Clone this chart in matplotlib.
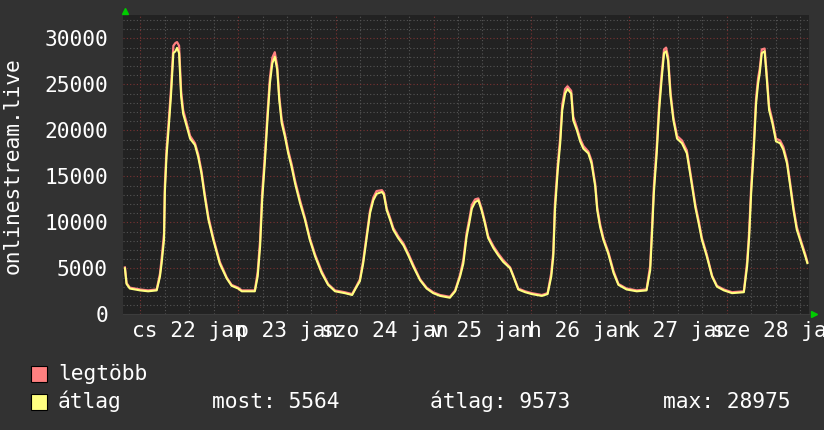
import numpy as np
import matplotlib.pyplot as plt
from matplotlib.patches import Rectangle

# onlinestream.live viewers, 22-28 jan, hours counted from 22 jan 00:00
hours = [-3.8, -3.4, -2.6, -0.1, 1.9, 4.0, 4.8, 5.2, 5.8, 6.0, 6.4, 7.0, 7.5, 8.1, 8.6,
         9.0, 9.5, 10.0, 10.5, 11.4, 12.2, 13.4, 14.2, 15.0, 15.8, 16.7, 17.9, 19.5,
         21.2, 22.4, 24.0, 24.9, 28.1, 28.8, 29.4, 29.9, 30.6, 31.2, 31.8, 32.4, 33.0,
         33.6, 34.1, 34.7, 35.5, 36.3, 37.1, 38.0, 39.2, 40.4, 41.6, 42.9, 44.5, 46.1,
         47.8, 50.2, 52.0, 53.1, 53.9, 54.7, 55.6, 56.4, 57.2, 58.0, 59.3, 59.8, 60.5,
         61.3, 62.1, 63.3, 64.6, 65.8, 67.0, 68.7, 70.3, 71.9, 73.6, 76.0, 77.3, 78.5,
         79.3, 80.1, 80.8, 81.4, 82.2, 83.0, 83.8, 84.6, 85.4, 86.7, 87.9, 89.1, 90.8,
         91.6, 92.8, 94.5, 96.1, 98.6, 100.0, 100.9, 101.4, 101.8, 102.5, 103.1, 103.6,
         104.3, 104.9, 105.8, 106.3, 107.2, 108.0, 108.8, 110.0, 110.8, 111.7, 112.2,
         112.9, 113.7, 114.9, 116.2, 117.4, 119.4, 121.9, 124.3, 125.2, 125.6, 126.1,
         126.8, 127.4, 128.0, 128.6, 129.1, 129.6, 130.2, 130.9, 131.8, 133.0, 134.2,
         135.0, 136.3, 137.1, 137.9, 139.1, 140.4, 141.6, 143.3, 145.3, 148.2, 149.0,
         149.5, 150.0, 150.6, 151.2, 151.7, 152.1, 152.6, 153.3, 153.8, 154.4, 155.2,
         156.1, 157.1, 157.9, 158.8, 159.6, 160.4, 161.2, 162.3, 163.3, 163.8]

atlag = [5000, 3300, 2800, 2600, 2500, 2600, 4100, 5500, 8100, 13200, 17100, 20600, 23700, 28400, 28600,
         28975, 28400, 23700, 21800, 20400, 19100, 18400, 17100, 15300, 12800, 10300, 8100, 5500,
         3900, 3100, 2800, 2500, 2500, 4100, 7400, 12400, 16800, 21100, 25100, 27300, 28000,
         26600, 23300, 20800, 19300, 17500, 16100, 14200, 12100, 10300, 8100, 6300, 4500, 3200,
         2500, 2300, 2100, 3000, 3600, 5500, 8400, 11000, 12400, 13100, 13300, 13000, 11300,
         10300, 9200, 8300, 7500, 6400, 5200, 3700, 2800, 2300, 2000, 1800, 2500, 4100,
         5500, 8400, 10000, 11500, 12200, 12400, 11300, 9900, 8300, 7200, 6400, 5700, 5000,
         4100, 2700, 2400, 2200, 2000, 2200, 4100, 6300, 11300, 15700, 18600, 22200,
         24000, 24500, 24000, 21100, 20000, 18800, 18000, 17500, 16400, 13900, 11300,
         9500, 8100, 6600, 4500, 3200, 2700, 2500, 2600, 4800, 8400, 13200,
         17500, 22200, 25500, 28400, 28600, 27600, 23700, 21100, 19100, 18600, 17500,
         15300, 11600, 9900, 8100, 6300, 4100, 3000, 2600, 2300, 2400, 5200,
         8400, 13200, 17500, 22900, 25100, 26200, 28400, 28600, 25800, 22200, 20800,
         18800, 18600, 17900, 16400, 13900, 11300, 9200, 7700, 6300, 5564]

legtobb = [5100, 3400, 2900, 2700, 2600, 2700, 4400, 6000, 8800, 14000, 17800, 21300, 24400, 29200, 29500,
           29600, 29200, 24300, 22200, 20700, 19400, 18600, 17400, 15600, 13100, 10600, 8300, 5700,
           4000, 3200, 2900, 2600, 2600, 4600, 8100, 13200, 17500, 21800, 25700, 27900, 28500,
           27000, 23700, 21200, 19600, 17800, 16400, 14500, 12400, 10500, 8300, 6500, 4700, 3300,
           2600, 2400, 2200, 3100, 3800, 5800, 8700, 11300, 12700, 13400, 13500, 13200, 11500,
           10500, 9400, 8500, 7700, 6600, 5400, 3800, 2900, 2400, 2100, 1900, 2600, 4300,
           5900, 8800, 10400, 11900, 12500, 12600, 11500, 10100, 8500, 7400, 6600, 5900, 5100,
           4200, 2800, 2500, 2300, 2100, 2300, 4500, 6800, 12000, 16300, 19200, 22800,
           24500, 24800, 24300, 21500, 20300, 19100, 18300, 17700, 16700, 14200, 11600,
           9800, 8300, 6800, 4700, 3300, 2800, 2600, 2700, 5300, 9000, 13900,
           18200, 22900, 26100, 28800, 29000, 28000, 24100, 21400, 19400, 18900, 17800,
           15600, 11900, 10200, 8300, 6500, 4200, 3100, 2700, 2400, 2500, 5700,
           9000, 13900, 18200, 23500, 25700, 26700, 28800, 28900, 26200, 22600, 21100,
           19100, 18900, 18200, 16700, 14200, 11600, 9500, 7900, 6500, 5700]

y_ticks = [0, 5000, 10000, 15000, 20000, 25000, 30000]
day_ticks = [12, 36, 60, 84, 108, 132, 156]
day_labels = ['cs 22 jan', 'p 23 jan', 'szo 24 jan', 'v 25 jan',
              'h 26 jan', 'k 27 jan', 'sze 28 jan']

### ----------- Plot -----------

plt.rcParams['font.family'] = 'DejaVu Sans Mono'
W, H = 824.0, 430.0
fig = plt.figure(figsize=(8.24, 4.30), dpi=100, facecolor='#323232')
ax = fig.add_axes([123.3/W, 1-314.3/H, (809-123.3)/W, (314.3-14.5)/H])
ax.set_facecolor('#222222')

# grid: minor grey every 6h / 1000, major red every day / 5000
for h in range(0, 168, 6):
    col = '#7a3333' if h % 24 == 0 else '#555555'
    ax.axvline(h, color=col, lw=0.8, ls=(0, (1, 2)), zorder=1)
for v in range(1000, 33000, 1000):
    col = '#7a3333' if v % 5000 == 0 else '#555555'
    ax.axhline(v, color=col, lw=0.8, ls=(0, (1, 2)), zorder=1)

ax.plot(hours, legtobb, color='#ff8080', lw=1.6, zorder=3)
ax.plot(hours, atlag, color='#ffff80', lw=1.5, zorder=4)

ax.set_xlim(-4.2, 164.2)
ax.set_ylim(0, 32600)
ax.set_yticks(y_ticks)
ax.set_xticks(day_ticks)
ax.set_xticklabels(day_labels)
ax.tick_params(length=0, colors='white', labelsize=15.3)
ax.tick_params(axis='y', pad=11)
ax.tick_params(axis='x', pad=5)
for s in ['top', 'right', 'left']:
    ax.spines[s].set_visible(False)
ax.spines['bottom'].set_color('#3c3c3c')

# green axis arrows
ax.plot([0.0025], [1.013], marker='^', ms=5, color='#00cc00',
        transform=ax.transAxes, clip_on=False)
ax.plot([1.0073], [0.0], marker='>', ms=5, color='#00cc00',
        transform=ax.transAxes, clip_on=False)

fig.text(13/W, 1-166/H, 'onlinestream.live', rotation=90, color='white',
         fontsize=15.3, ha='center', va='center')

# legend
fig.add_artist(Rectangle((31.5/W, 1-382/H), 15.5/W, 16/H, transform=fig.transFigure,
                         facecolor='#ff8080', edgecolor='black', lw=0.8))
fig.add_artist(Rectangle((31.5/W, 1-410/H), 15.5/W, 16/H, transform=fig.transFigure,
                         facecolor='#ffff80', edgecolor='black', lw=0.8))
fig.text(58/W, 1-380/H, 'legtöbb', color='white', fontsize=15.3, va='baseline')
fig.text(58/W, 1-408/H, 'átlag', color='white', fontsize=15.3, va='baseline')
fig.text(212/W, 1-408/H, 'most: 5564', color='white', fontsize=15.3, va='baseline')
fig.text(430/W, 1-408/H, 'átlag: 9573', color='white', fontsize=15.3, va='baseline')
fig.text(663/W, 1-408/H, 'max: 28975', color='white', fontsize=15.3, va='baseline')

fig.savefig('out.png', dpi=100, facecolor=fig.get_facecolor())
